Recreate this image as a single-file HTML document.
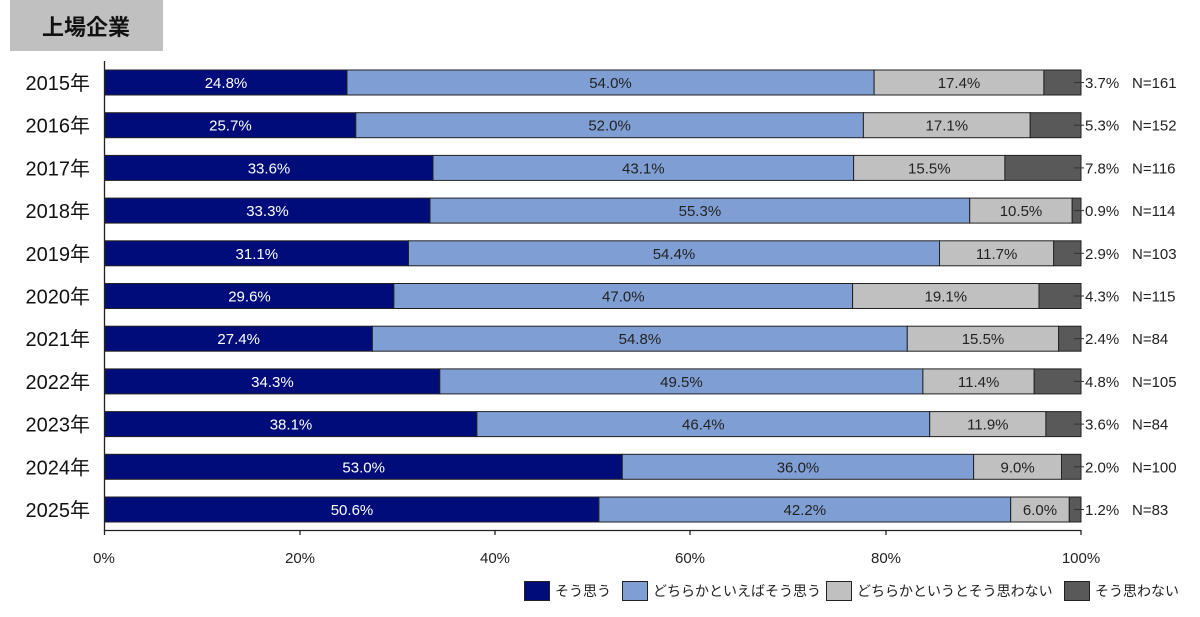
<!DOCTYPE html>
<html><head><meta charset="utf-8"><style>
body{margin:0;background:#fff;width:1200px;height:612px;overflow:hidden}
svg text{font-family:"Liberation Sans","Noto Sans CJK JP",sans-serif}
.y{font-size:20px;fill:#111;text-anchor:end}
.p{font-size:15px;text-anchor:middle;fill:#222}
.w{fill:#fff}
.r{font-size:15px;fill:#222}
rect.b{stroke:#222;stroke-width:1}
.s1{fill:#000c7a}.s2{fill:#7f9fd4}.s3{fill:#c0c0c0}.s4{fill:#595959}
</style></head><body>
<svg width="1200" height="612" xmlns="http://www.w3.org/2000/svg">
<rect x="10" y="0" width="153" height="51" fill="#c0c0c0"/>
<text x="86" y="35" font-size="22" font-weight="bold" text-anchor="middle" fill="#111">上場企業</text>
<g stroke="#222" stroke-width="1.3">
<line x1="104.5" y1="61" x2="104.5" y2="531"/>
<line x1="104" y1="530.5" x2="1081" y2="530.5"/>
<line x1="104.5" y1="530" x2="104.5" y2="535"/>
<line x1="300" y1="530" x2="300" y2="535"/>
<line x1="495" y1="530" x2="495" y2="535"/>
<line x1="690" y1="530" x2="690" y2="535"/>
<line x1="886" y1="530" x2="886" y2="535"/>
<line x1="1081" y1="530" x2="1081" y2="535"/>
</g>
<g font-size="15" fill="#222" text-anchor="middle">
<text x="104" y="563">0%</text><text x="300" y="563">20%</text><text x="495" y="563">40%</text><text x="690" y="563">60%</text><text x="886" y="563">80%</text><text x="1081" y="563">100%</text>
</g>

<g transform="translate(0,70)">
<text class="y" x="90" y="20">2015年</text>
<rect class="b s1" x="105" y="0" width="242" height="25"/><rect class="b s2" x="347" y="0" width="527.1" height="25"/><rect class="b s3" x="874.1" y="0" width="169.8" height="25"/><rect class="b s4" x="1043.9" y="0" width="37.1" height="25"/>
<text class="p w" x="226" y="18">24.8%</text><text class="p" x="610.5" y="18">54.0%</text><text class="p" x="959" y="18">17.4%</text>
<line x1="1074" y1="12.5" x2="1084" y2="12.5" stroke="#333"/><text class="r" x="1085" y="18">3.7%</text><text class="r" x="1132" y="18">N=161</text>
</g>
<g transform="translate(0,112.7)">
<text class="y" x="90" y="20">2016年</text>
<rect class="b s1" x="105" y="0" width="250.8" height="25"/><rect class="b s2" x="355.8" y="0" width="507.6" height="25"/><rect class="b s3" x="863.4" y="0" width="166.8" height="25"/><rect class="b s4" x="1030.2" y="0" width="50.8" height="25"/>
<text class="p w" x="230.4" y="18">25.7%</text><text class="p" x="609.6" y="18">52.0%</text><text class="p" x="946.8" y="18">17.1%</text>
<line x1="1074" y1="12.5" x2="1084" y2="12.5" stroke="#333"/><text class="r" x="1085" y="18">5.3%</text><text class="r" x="1132" y="18">N=152</text>
</g>
<g transform="translate(0,155.4)">
<text class="y" x="90" y="20">2017年</text>
<rect class="b s1" x="105" y="0" width="328" height="25"/><rect class="b s2" x="433" y="0" width="420.6" height="25"/><rect class="b s3" x="853.6" y="0" width="151.3" height="25"/><rect class="b s4" x="1004.9" y="0" width="76.1" height="25"/>
<text class="p w" x="269" y="18">33.6%</text><text class="p" x="643.3" y="18">43.1%</text><text class="p" x="929.3" y="18">15.5%</text>
<line x1="1074" y1="12.5" x2="1084" y2="12.5" stroke="#333"/><text class="r" x="1085" y="18">7.8%</text><text class="r" x="1132" y="18">N=116</text>
</g>
<g transform="translate(0,198.1)">
<text class="y" x="90" y="20">2018年</text>
<rect class="b s1" x="105" y="0" width="325" height="25"/><rect class="b s2" x="430" y="0" width="539.7" height="25"/><rect class="b s3" x="969.7" y="0" width="102.5" height="25"/><rect class="b s4" x="1072.2" y="0" width="8.8" height="25"/>
<text class="p w" x="267.5" y="18">33.3%</text><text class="p" x="699.9" y="18">55.3%</text><text class="p" x="1021" y="18">10.5%</text>
<line x1="1074" y1="12.5" x2="1084" y2="12.5" stroke="#333"/><text class="r" x="1085" y="18">0.9%</text><text class="r" x="1132" y="18">N=114</text>
</g>
<g transform="translate(0,240.8)">
<text class="y" x="90" y="20">2019年</text>
<rect class="b s1" x="105" y="0" width="303.5" height="25"/><rect class="b s2" x="408.5" y="0" width="531" height="25"/><rect class="b s3" x="939.5" y="0" width="114.2" height="25"/><rect class="b s4" x="1053.7" y="0" width="27.3" height="25"/>
<text class="p w" x="256.8" y="18">31.1%</text><text class="p" x="674" y="18">54.4%</text><text class="p" x="996.6" y="18">11.7%</text>
<line x1="1074" y1="12.5" x2="1084" y2="12.5" stroke="#333"/><text class="r" x="1085" y="18">2.9%</text><text class="r" x="1132" y="18">N=103</text>
</g>
<g transform="translate(0,283.5)">
<text class="y" x="90" y="20">2020年</text>
<rect class="b s1" x="105" y="0" width="288.9" height="25"/><rect class="b s2" x="393.9" y="0" width="458.7" height="25"/><rect class="b s3" x="852.6" y="0" width="186.4" height="25"/><rect class="b s4" x="1039" y="0" width="42" height="25"/>
<text class="p w" x="249.5" y="18">29.6%</text><text class="p" x="623.3" y="18">47.0%</text><text class="p" x="945.8" y="18">19.1%</text>
<line x1="1074" y1="12.5" x2="1084" y2="12.5" stroke="#333"/><text class="r" x="1085" y="18">4.3%</text><text class="r" x="1132" y="18">N=115</text>
</g>
<g transform="translate(0,326.2)">
<text class="y" x="90" y="20">2021年</text>
<rect class="b s1" x="105" y="0" width="267.4" height="25"/><rect class="b s2" x="372.4" y="0" width="534.9" height="25"/><rect class="b s3" x="907.3" y="0" width="151.3" height="25"/><rect class="b s4" x="1058.6" y="0" width="22.4" height="25"/>
<text class="p w" x="238.7" y="18">27.4%</text><text class="p" x="639.9" y="18">54.8%</text><text class="p" x="983" y="18">15.5%</text>
<line x1="1074" y1="12.5" x2="1084" y2="12.5" stroke="#333"/><text class="r" x="1085" y="18">2.4%</text><text class="r" x="1132" y="18">N=84</text>
</g>
<g transform="translate(0,368.9)">
<text class="y" x="90" y="20">2022年</text>
<rect class="b s1" x="105" y="0" width="334.8" height="25"/><rect class="b s2" x="439.8" y="0" width="483.1" height="25"/><rect class="b s3" x="922.9" y="0" width="111.3" height="25"/><rect class="b s4" x="1034.2" y="0" width="46.8" height="25"/>
<text class="p w" x="272.4" y="18">34.3%</text><text class="p" x="681.4" y="18">49.5%</text><text class="p" x="978.6" y="18">11.4%</text>
<line x1="1074" y1="12.5" x2="1084" y2="12.5" stroke="#333"/><text class="r" x="1085" y="18">4.8%</text><text class="r" x="1132" y="18">N=105</text>
</g>
<g transform="translate(0,411.6)">
<text class="y" x="90" y="20">2023年</text>
<rect class="b s1" x="105" y="0" width="371.9" height="25"/><rect class="b s2" x="476.9" y="0" width="452.8" height="25"/><rect class="b s3" x="929.7" y="0" width="116.2" height="25"/><rect class="b s4" x="1045.9" y="0" width="35.1" height="25"/>
<text class="p w" x="291" y="18">38.1%</text><text class="p" x="703.3" y="18">46.4%</text><text class="p" x="987.8" y="18">11.9%</text>
<line x1="1074" y1="12.5" x2="1084" y2="12.5" stroke="#333"/><text class="r" x="1085" y="18">3.6%</text><text class="r" x="1132" y="18">N=84</text>
</g>
<g transform="translate(0,454.3)">
<text class="y" x="90" y="20">2024年</text>
<rect class="b s1" x="105" y="0" width="517.3" height="25"/><rect class="b s2" x="622.3" y="0" width="351.3" height="25"/><rect class="b s3" x="973.6" y="0" width="87.9" height="25"/><rect class="b s4" x="1061.5" y="0" width="19.5" height="25"/>
<text class="p w" x="363.7" y="18">53.0%</text><text class="p" x="798" y="18">36.0%</text><text class="p" x="1017.6" y="18">9.0%</text>
<line x1="1074" y1="12.5" x2="1084" y2="12.5" stroke="#333"/><text class="r" x="1085" y="18">2.0%</text><text class="r" x="1132" y="18">N=100</text>
</g>
<g transform="translate(0,497)">
<text class="y" x="90" y="20">2025年</text>
<rect class="b s1" x="105" y="0" width="493.9" height="25"/><rect class="b s2" x="598.9" y="0" width="411.8" height="25"/><rect class="b s3" x="1010.7" y="0" width="58.6" height="25"/><rect class="b s4" x="1069.3" y="0" width="11.7" height="25"/>
<text class="p w" x="352" y="18">50.6%</text><text class="p" x="804.8" y="18">42.2%</text><text class="p" x="1040" y="18">6.0%</text>
<line x1="1074" y1="12.5" x2="1084" y2="12.5" stroke="#333"/><text class="r" x="1085" y="18">1.2%</text><text class="r" x="1132" y="18">N=83</text>
</g>

<g font-size="14" fill="#222">
<rect class="b s1" x="524.5" y="581.5" width="25" height="19"/>
<rect class="b s2" x="622.5" y="581.5" width="25" height="19"/>
<rect class="b s3" x="826.5" y="581.5" width="25" height="19"/>
<rect class="b s4" x="1064.5" y="581.5" width="25" height="19"/>
<text x="555" y="596">そう思う</text>
<text x="653" y="596">どちらかといえばそう思う</text>
<text x="857" y="596">どちらかというとそう思わない</text>
<text x="1095" y="596">そう思わない</text>
</g>
</svg>
</body></html>
